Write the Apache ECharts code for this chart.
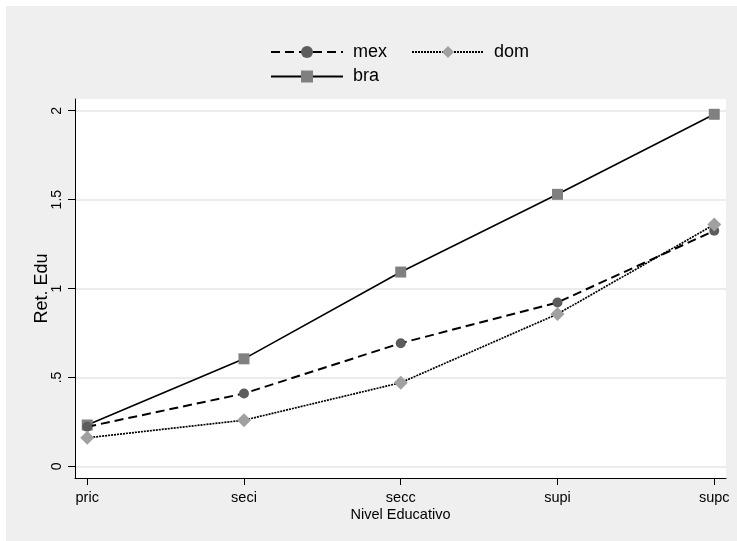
<!DOCTYPE html>
<html>
<head>
<meta charset="utf-8">
<script src="https://cdn.jsdelivr.net/npm/echarts@6/dist/echarts.min.js"></script>
<style>
html,body{margin:0;padding:0;background:#ffffff;}
#bg{position:absolute;left:6px;top:6px;width:731px;height:535px;background:#efefef;}
#chart{position:absolute;left:0;top:0;width:737px;height:541px;}
</style>
</head>
<body>
<div id="bg"></div>
<div id="chart"></div>
<script>
const categories = ['pric', 'seci', 'secc', 'supi', 'supc'];
const mex = [0.223, 0.41, 0.693, 0.922, 1.325];
const dom = [0.161, 0.26, 0.471, 0.857, 1.36];
const bra = [0.233, 0.605, 1.093, 1.53, 1.98];
const yTicks = [0, 0.5, 1, 1.5, 2];
const yTickLabels = ['0', '.5', '1', '1.5', '2'];

const toPts = arr => arr.map((v, i) => [i, v]);
const catIdx = categories.map((c, i) => i);
const font = 'Liberation Sans, Arial, sans-serif';

const chart = echarts.init(document.getElementById('chart'), null, {renderer: 'canvas'});
const legendText = {fontFamily: font, fontSize: 18, color: '#000', padding: [0, 0, 0, 5]};
chart.setOption({
  backgroundColor: 'transparent',
  animation: false,
  textStyle: {fontFamily: font, color: '#000'},
  grid: {left: 75, right: 11, top: 99, bottom: 63, show: true, backgroundColor: '#ffffff', borderWidth: 0},
  legend: [
    {
      data: ['mex', 'dom'],
      left: 270, top: 43, padding: 0,
      itemWidth: 72, itemHeight: 15, itemGap: 24,
      textStyle: legendText
    },
    {
      data: ['bra'],
      left: 270, top: 67.5, padding: 0,
      itemWidth: 72, itemHeight: 15,
      textStyle: legendText
    }
  ],
  xAxis: {
    type: 'value',
    min: -0.078, max: 4.075,
    name: 'Nivel Educativo', nameLocation: 'middle', nameGap: 29, nameMoveOverlap: false,
    nameTextStyle: {fontSize: 14.5, color: '#000'},
    axisLine: {show: true, onZero: false, lineStyle: {color: '#000', width: 1}},
    axisTick: {show: true, length: 7, customValues: catIdx, lineStyle: {color: '#000'}},
    axisLabel: {customValues: catIdx, fontSize: 14.5, color: '#000', margin: 12,
      formatter: v => categories[Math.round(v)]},
    splitLine: {show: false}
  },
  yAxis: {
    type: 'value',
    min: -0.065, max: 2.066,
    name: 'Ret. Edu', nameLocation: 'middle', nameGap: 24, nameRotate: 90, nameMoveOverlap: false,
    nameTextStyle: {fontSize: 18, color: '#000'},
    axisLine: {show: true, onZero: false, lineStyle: {color: '#000', width: 1}},
    axisTick: {show: true, length: 7, customValues: yTicks, lineStyle: {color: '#000'}},
    axisLabel: {customValues: yTicks, rotate: 90, fontSize: 14, color: '#000', margin: 11,
      formatter: v => yTickLabels[yTicks.indexOf(v)] ?? ''},
    splitLine: {show: true, lineStyle: {color: '#e6e6e6', width: 1.5}}
  },
  series: [
    {
      name: 'mex', type: 'line', data: toPts(mex),
      symbol: 'circle', symbolSize: 10,
      lineStyle: {color: '#000', width: 2, type: [9, 5]},
      itemStyle: {color: '#5c5c5c'},
      z: 3
    },
    {
      name: 'dom', type: 'line', data: toPts(dom),
      symbol: 'diamond', symbolSize: 14,
      lineStyle: {color: '#000', width: 1.7, type: [2, 1]},
      itemStyle: {color: '#a0a0a0'},
      z: 4
    },
    {
      name: 'bra', type: 'line', data: toPts(bra),
      symbol: 'rect', symbolSize: 11,
      lineStyle: {color: '#000', width: 1.6, type: 'solid'},
      itemStyle: {color: '#808080'},
      z: 2
    }
  ]
});
</script>
</body>
</html>
